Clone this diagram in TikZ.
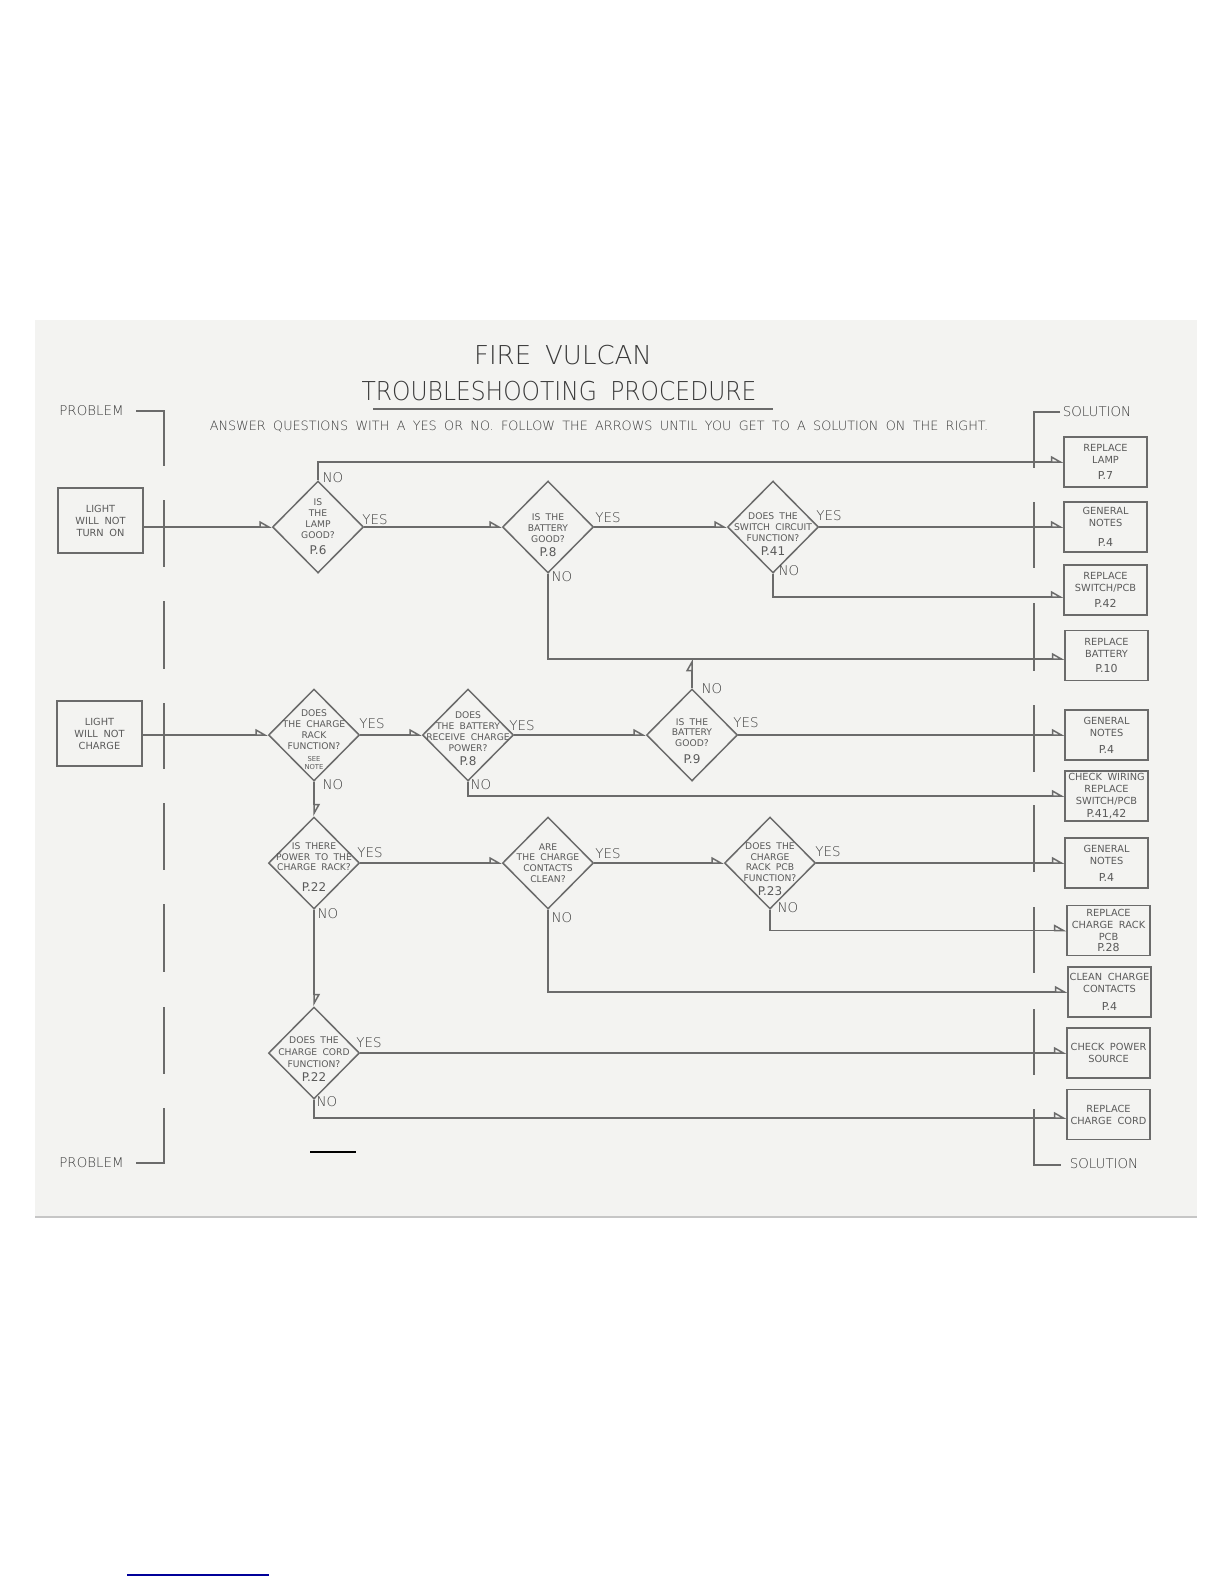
\documentclass[tikz,border=0pt]{standalone}
\usepackage{fontspec}
\newfontfamily\cad{DejaVu Sans ExtraLight}[WordSpace=1.8]
\newfontfamily\cadn{DejaVu Sans ExtraLight}[WordSpace=1.8,FakeStretch=0.9]
\newfontfamily\cadb{DejaVu Sans}[WordSpace=1.8]
\usetikzlibrary{arrows.meta,positioning,shapes.geometric}

\definecolor{ink}{HTML}{6B6B6B}
\definecolor{txt}{HTML}{5A5A5A}
\definecolor{dark}{HTML}{3A3A3A}
\definecolor{paper}{HTML}{F3F3F1}

\newcommand\qsize{\cadb\fontsize{4.6pt}{5.4pt}\selectfont}
\newcommand\psize{\cadb\fontsize{6pt}{7pt}\selectfont}
\newcommand\nsize{\cadb\fontsize{3.4pt}{4pt}\selectfont}
\newcommand\bsize{\cadb\fontsize{4.9pt}{6pt}\selectfont}
\newcommand\bpsize{\cadb\fontsize{5.5pt}{6.5pt}\selectfont}
\newcommand\ynsize{\cad\fontsize{6.7pt}{8pt}\selectfont}

\begin{document}
\begin{tikzpicture}[x=0.5pt, y=-0.5pt,
  ln/.style={draw=ink, line width=0.75pt},
  arr/.style={ln, -{Triangle[open, left, length=5.5pt, width=6pt]}},
  dia/.style={ln, diamond, minimum width=45.5pt, minimum height=46pt, inner sep=0pt},
  qtxt/.style={align=center, text=txt, font=\qsize, inner sep=0pt},
  sol/.style={ln, minimum width=41.5pt, minimum height=25pt, inner sep=0pt, align=center, text=txt, font=\bsize},
  prob/.style={ln, minimum width=42.5pt, minimum height=32.5pt, inner sep=0pt, align=center, text=txt, font=\bsize},
  yn/.style={text=dark, font=\ynsize, inner sep=0pt}
]
\useasboundingbox (0,0) rectangle (1224,1584);
\fill[paper] (35,320) rectangle (1197,1217);
\draw[gray!45, line width=1pt] (35,1217) -- (1197,1217);

\node[text=dark, font=\cad\fontsize{13pt}{15pt}\selectfont, inner sep=0pt] (title) at (563,355) {FIRE\hspace{7pt}VULCAN};
\node[text=dark, font=\cadn\fontsize{13pt}{15pt}\selectfont, inner sep=0pt] (subtitle) at (559,391) {TROUBLESHOOTING PROCEDURE};
\draw[ln] (373,409) -- (773,409);
\node[text=dark, font=\cad\fontsize{6.4pt}{8pt}\selectfont, inner sep=0pt] (howto) at (599,427) {ANSWER QUESTIONS WITH A YES OR NO. FOLLOW THE ARROWS UNTIL YOU GET TO A SOLUTION ON THE RIGHT.};

% brackets
\node[yn] (prob1) at (91.5,411) {PROBLEM};
\node[yn] (prob2) at (91.5,1163) {PROBLEM};
\node[yn] (sol1) at (1097,412) {SOLUTION};
\node[yn] (sol2) at (1104,1164) {SOLUTION};
\draw[ln] (136,411) -- (164,411) -- (164,466);
\draw[ln] (164,1108) -- (164,1163) -- (136,1163);
\foreach \a/\b in {500/567, 601/669, 703/769, 803/870, 904/972, 1007/1074}
  \draw[ln] (164,\a) -- (164,\b);
\draw[ln] (1060,412) -- (1034,412) -- (1034,468);
\draw[ln] (1034,1109) -- (1034,1165) -- (1061,1165);
\foreach \a/\b in {502/568, 603/671, 705/772, 805/872, 907/973, 1009/1075}
  \draw[ln] (1034,\a) -- (1034,\b);

% problems
\node[prob] (p1) at (100.5,520.5) {LIGHT\\WILL NOT\\TURN ON};
\node[prob] (p2) at (99.5,733.5) {LIGHT\\WILL NOT\\CHARGE};

% questions
\node[dia] (lamp) at (318,527) {};
\node[qtxt] (lamp-q) at ([yshift=0pt]lamp) {IS\\THE\\LAMP\\GOOD?\\[3pt]{\psize P.6}};
\node[dia] (bat) at (548,527) {};
\node[qtxt] (bat-q) at ([yshift=-4pt]bat) {IS THE\\BATTERY\\GOOD?\\[1.5pt]{\psize P.8}};
\node[dia] (sw) at (773,527) {};
\node[qtxt] (sw-q) at ([yshift=-3.5pt]sw) {DOES THE\\SWITCH CIRCUIT\\FUNCTION?\\[1.6pt]{\psize P.41}};

\node[dia] (chk) at (314,735) {};
\node[qtxt] (chk-q) at ([yshift=-2.5pt]chk) {DOES\\THE CHARGE\\RACK\\FUNCTION?\\[0.8pt]{\nsize SEE}\\[-1.2pt]{\nsize NOTE}};
\node[dia] (recv) at (468,735) {};
\node[qtxt] (recv-q) at ([yshift=-2pt]recv) {DOES\\THE BATTERY\\RECEIVE CHARGE\\POWER?\\[2pt]{\psize P.8}};
\node[dia] (bgood) at (692,735) {};
\node[qtxt] (bgood-q) at ([yshift=-3pt]bgood) {IS THE\\BATTERY\\GOOD?\\[3pt]{\psize P.9}};

\node[dia] (pwr) at (314,863) {};
\node[qtxt] (pwr-q) at ([yshift=-2pt]pwr) {IS THERE\\POWER TO THE\\CHARGE RACK?\\[5pt]{\psize P.22}};
\node[dia] (cont) at (548,863) {};
\node[qtxt] (cont-q) at (cont) {ARE\\THE CHARGE\\CONTACTS\\CLEAN?};
\node[dia] (pcb) at (770,863) {};
\node[qtxt] (pcb-q) at ([yshift=-3pt]pcb) {DOES THE\\CHARGE\\RACK PCB\\FUNCTION?\\[1.5pt]{\psize P.23}};

\node[dia] (cord) at (314,1053) {};
\node[qtxt] (cord-q) at ([yshift=-3pt]cord) {DOES THE\\[0.6pt]CHARGE CORD\\[0.6pt]FUNCTION?\\[1.5pt]{\psize P.22}};

% solutions
\node[sol] (rlamp) at (1105.5,462) {REPLACE\\LAMP\\[2pt]{\bpsize P.7}};
\node[sol] (gn1) at (1105.5,527) {GENERAL\\NOTES\\[4pt]{\bpsize P.4}};
\node[sol] (rsw) at (1105.5,590) {REPLACE\\SWITCH/PCB\\[2pt]{\bpsize P.42}};
\node[sol] (rbat) at (1106.5,655.5) {REPLACE\\BATTERY\\[1.5pt]{\bpsize P.10}};
\node[sol] (gn2) at (1106.5,735) {GENERAL\\NOTES\\[2.5pt]{\bpsize P.4}};
\node[sol] (cw) at (1106.5,796) {CHECK WIRING\\REPLACE\\SWITCH/PCB\\[0.3pt]{\bpsize P.41,42}};
\node[sol] (gn3) at (1106.5,863) {GENERAL\\NOTES\\[2.5pt]{\bpsize P.4}};
\node[sol] (rrack) at (1108.5,930.5) {REPLACE\\CHARGE RACK\\PCB\\[-0.5pt]{\bpsize P.28}};
\node[sol] (clean) at (1109.5,992) {CLEAN CHARGE\\CONTACTS\\[3pt]{\bpsize P.4}};
\node[sol] (cps) at (1108.5,1053) {CHECK POWER\\SOURCE};
\node[sol] (rcord) at (1108.5,1114.5) {REPLACE\\CHARGE CORD};

% yes / no
\node[yn] (lamp-no) at (333,478) {NO};
\node[yn] (lamp-yes) at (375,520) {YES};
\node[yn] (bat-yes) at (608,518) {YES};
\node[yn] (bat-no) at (562,577) {NO};
\node[yn] (sw-yes) at (829,516) {YES};
\node[yn] (sw-no) at (789,571) {NO};
\node[yn] (chk-yes) at (372,724) {YES};
\node[yn] (chk-no) at (333,785) {NO};
\node[yn] (recv-yes) at (522,726) {YES};
\node[yn] (recv-no) at (481,785) {NO};
\node[yn] (bgood-yes) at (746,723) {YES};
\node[yn] (bgood-no) at (712,689) {NO};
\node[yn] (pwr-yes) at (370,853) {YES};
\node[yn] (pwr-no) at (328,914) {NO};
\node[yn] (cont-yes) at (608,854) {YES};
\node[yn] (cont-no) at (562,918) {NO};
\node[yn] (pcb-yes) at (828,852) {YES};
\node[yn] (pcb-no) at (788,908) {NO};
\node[yn] (cord-yes) at (369,1043) {YES};
\node[yn] (cord-no) at (327,1102) {NO};

\coordinate (bjoin) at (692,659);

\draw[arr] (p1.east |- lamp.west) -- (lamp.west);
\draw[arr] (lamp.north) |- (rlamp.west);
\draw[arr] (lamp.east) -- (bat.west);
\draw[arr] (bat.east) -- (sw.west);
\draw[arr] (sw.east) -- (gn1.west);
\draw[arr] (sw.south) |- ([yshift=-3.5pt]rsw.west);
\draw[arr] (bat.south) |- ([yshift=-1.75pt]rbat.west);
\draw[arr] (bgood.north) -- (bjoin);

\draw[arr] (p2.east |- chk.west) -- (chk.west);
\draw[arr] (chk.east) -- (recv.west);
\draw[arr] (recv.east) -- (bgood.west);
\draw[arr] (bgood.east) -- (gn2.west);
\draw[arr] (recv.south) |- (cw.west);
\draw[arr] (chk.south) -- (pwr.north);

\draw[arr] (pwr.east) -- (cont.west);
\draw[arr] (cont.east) -- (pcb.west);
\draw[arr] (pcb.east) -- (gn3.west);
\draw[arr] (pcb.south) |- (rrack.west);
\draw[arr] (cont.south) |- (clean.west);
\draw[arr] (pwr.south) -- (cord.north);

\draw[arr] (cord.east) -- (cps.west);
\draw[arr] (cord.south) |- ([yshift=-1.75pt]rcord.west);

\draw[black, line width=1.2pt] (310,1152) -- (356,1152);
\draw[blue!60!black, line width=1.2pt] (127,1575) -- (269,1575);

\end{tikzpicture}
\end{document}
